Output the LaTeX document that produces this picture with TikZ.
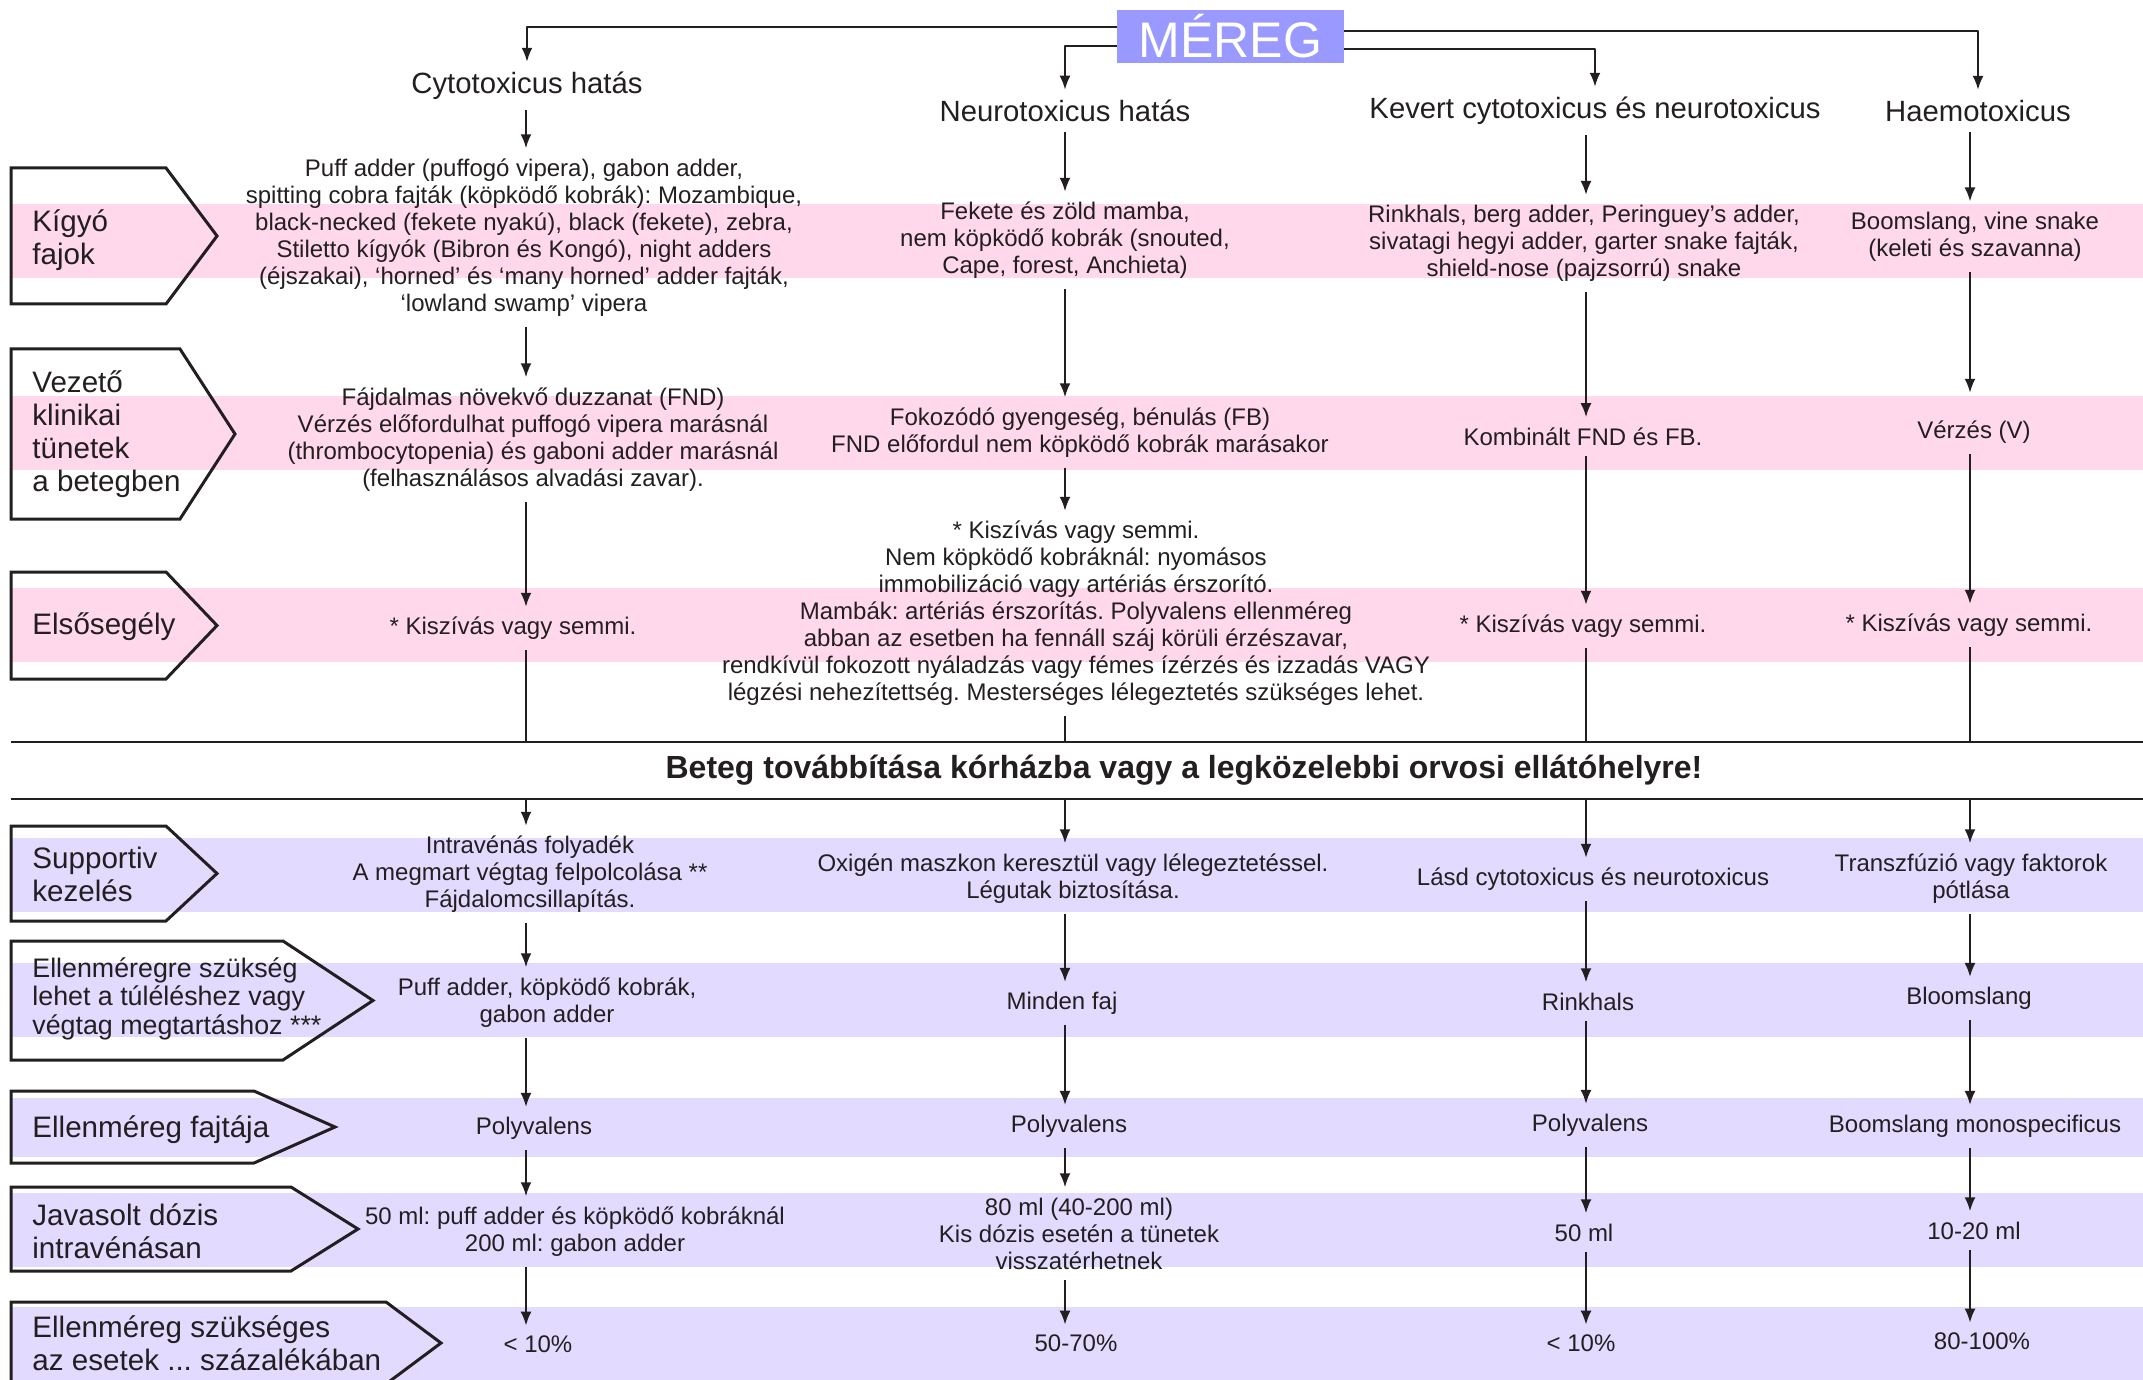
\documentclass[tikz,border=0pt]{standalone}
\usepackage{fontspec}
\setmainfont{Liberation Sans}
\frenchspacing
\usetikzlibrary{arrows.meta}
\definecolor{ink}{RGB}{35,31,32}
\definecolor{rosefill}{RGB}{255,216,236}
\definecolor{lilacfill}{RGB}{227,218,255}
\definecolor{merfill}{RGB}{153,153,255}
\tikzset{
  cell/.style={align=center,inner sep=5pt,yshift=-1.75pt,text=ink,font=\fontsize{12}{13.5}\selectfont},
  head/.style={inner sep=5pt,yshift=-1pt,text=ink,font=\fontsize{14.65}{16}\selectfont},
  rowlabel/.style={anchor=west,align=left,inner sep=0pt,yshift=-0.5pt,text=ink,font=\fontsize{14.8}{16.5}\selectfont},
  rowbox/.style={draw=ink,line width=1.5pt,line join=miter},
  rosebar/.style={fill=rosefill},
  lilacbar/.style={fill=lilacfill},
  rule/.style={draw=ink,line width=1.2pt},
  flow/.style={->,draw=ink,line width=1pt},
  link/.style={draw=ink,line width=1pt},
}
\begin{document}
\begin{tikzpicture}[x=0.5pt,y=-0.5pt,>={Latex[length=7pt,width=5.5pt]},line join=bevel,]
      \useasboundingbox (0,0) rectangle (2143,1380);
      \clip (0,0) rectangle (2143,1380);
      %% 
      % Bands
      \fill [rosebar] (11,204) rectangle (2143,278);
      \fill [rosebar] (11,396) rectangle (2143,470);
      \fill [rosebar] (11,588) rectangle (2143,662);
      \fill [lilacbar] (11,838) rectangle (2143,912);
      \fill [lilacbar] (11,963) rectangle (2143,1037);
      \fill [lilacbar] (11,1098) rectangle (2143,1157);
      \fill [lilacbar] (11,1193) rectangle (2143,1267);
      \fill [lilacbar] (11,1307) rectangle (2143,1380);
      % Columns and rules
      \coordinate (cyx) at (526,0);
      \coordinate (nex) at (1065,0);
      \coordinate (kex) at (1586,0);
      \coordinate (hax) at (1970,0);
      \coordinate (ruleA) at (11,742);
      \coordinate (ruleAend) at (2143,742);
      \coordinate (ruleB) at (11,799);
      \coordinate (ruleBend) at (2143,799);
      \draw [rule] (ruleA) -- (ruleAend);
      \draw [rule] (ruleB) -- (ruleBend);
      % Node: mereg
      \node [fill=merfill,text=white,minimum width=113.5pt,minimum height=26.5pt,inner sep=0pt,
             font=\fontsize{25}{25}\selectfont] (mereg) at (1230.5,36.5) {MÉREG};
      % Node: row labels
      \draw [rowbox] (11,168) -- (166,168) -- (217,236) -- (166,304) -- (11,304) -- cycle;
      \node [rowlabel] (kigyo) at (32,239.5) {Kígyó\\fajok};
      \draw [rowbox] (11,349) -- (180,349) -- (235,434) -- (180,519) -- (11,519) -- cycle;
      \node [rowlabel] (vezeto) at (32,433) {Vezető\\klinikai\\tünetek\\a betegben};
      \draw [rowbox] (11,572) -- (166,572) -- (217,625.5) -- (166,679) -- (11,679) -- cycle;
      \node [rowlabel] (elso) at (32,626) {Elsősegély};
      \draw [rowbox] (11,826) -- (166,826) -- (217,873.5) -- (166,921) -- (11,921) -- cycle;
      \node [rowlabel] (supp) at (32,873.5) {Supportiv\\kezelés};
      \draw [rowbox] (11,941) -- (283,941) -- (373,1000.5) -- (283,1060) -- (11,1060) -- cycle;
      \node [rowlabel,font=\fontsize{13.4}{14.25}\selectfont] (ellen) at (32,997.5) {Ellenméregre szükség\\lehet a túléléshez vagy\\végtag megtartáshoz ***};
      \draw [rowbox] (11,1091) -- (254,1091) -- (335,1127) -- (254,1163) -- (11,1163) -- cycle;
      \node [rowlabel] (fajta) at (32,1129) {Ellenméreg fajtája};
      \draw [rowbox] (11,1187) -- (291,1187) -- (358,1229) -- (291,1271) -- (11,1271) -- cycle;
      \node [rowlabel] (dozis) at (32,1230) {Javasolt dózis\\intravénásan};
      \draw [rowbox] (11,1302) -- (386,1302) -- (441,1343) -- (386,1384) -- (11,1384) -- cycle;
      \node [rowlabel] (szazalek) at (32,1342) {Ellenméreg szükséges\\az esetek ... százalékában};
      % Node: titles
      \node [head] (cyT) at (527,84) {Cytotoxicus hatás};
      \node [head] (neT) at (1065,109) {Neurotoxicus hatás};
      \node [head] (keT) at (1595,109) {Kevert cytotoxicus és neurotoxicus};
      \node [head] (haT) at (1978,109) {Haemotoxicus};
      % Node: species
      \node [cell] (cyS) at (524,234) {Puff adder (puffogó vipera), gabon adder,\\spitting cobra fajták (köpködő kobrák): Mozambique,\\black-necked (fekete nyakú), black (fekete), zebra,\\Stiletto kígyók (Bibron és Kongó), night adders\\(éjszakai), ‘horned’ és ‘many horned’ adder fajták,\\‘lowland swamp’ vipera};
      \node [cell] (neS) at (1065,237) {Fekete és zöld mamba,\\nem köpködő kobrák (snouted,\\Cape, forest, Anchieta)};
      \node [cell] (keS) at (1584,240) {Rinkhals, berg adder, Peringuey’s adder,\\sivatagi hegyi adder, garter snake fajták,\\shield-nose (pajzsorrú) snake};
      \node [cell] (haS) at (1975,233) {Boomslang, vine snake\\(keleti és szavanna)};
      % Node: clinical signs
      \node [cell] (cyC) at (533,436) {Fájdalmas növekvő duzzanat (FND)\\Vérzés előfordulhat puffogó vipera marásnál\\(thrombocytopenia) és gaboni adder marásnál\\(felhasználásos alvadási zavar).};
      \node [cell] (neC) at (1080,429) {Fokozódó gyengeség, bénulás (FB)\\FND előfordul nem köpködő kobrák marásakor};
      \node [cell] (keC) at (1583,433) {Kombinált FND és FB.};
      \node [cell] (haC) at (1974,429) {Vérzés (V)};
      % Node: first aid
      \node [cell] (cyF) at (513,625) {* Kiszívás vagy semmi.};
      \node [cell] (neF) at (1076,610) {* Kiszívás vagy semmi.\\Nem köpködő kobráknál: nyomásos\\immobilizáció vagy artériás érszorító.\\Mambák: artériás érszorítás. Polyvalens ellenméreg\\abban az esetben ha fennáll száj körüli érzészavar,\\rendkívül fokozott nyáladzás vagy fémes ízérzés és izzadás VAGY\\légzési nehezítettség. Mesterséges lélegeztetés szükséges lehet.};
      \node [cell] (keF) at (1583,623) {* Kiszívás vagy semmi.};
      \node [cell] (haF) at (1969,622) {* Kiszívás vagy semmi.};
      % Node: transfer
      \node [text=ink,yshift=-1pt,font=\bfseries\fontsize{16}{18}\selectfont] (transfer) at (1184,768) {Beteg továbbítása kórházba vagy a legközelebbi orvosi ellátóhelyre!};
      % Node: supportive care
      \node [cell] (cyP) at (530,871) {Intravénás folyadék\\A megmart végtag felpolcolása **\\Fájdalomcsillapítás.};
      \node [cell] (neP) at (1073,875) {Oxigén maszkon keresztül vagy lélegeztetéssel.\\Légutak biztosítása.};
      \node [cell] (keP) at (1593,876) {Lásd cytotoxicus és neurotoxicus};
      \node [cell] (haP) at (1971,875) {Transzfúzió vagy faktorok\\pótlása};
      % Node: antivenom needed
      \node [cell] (cyA) at (547,999) {Puff adder, köpködő kobrák,\\gabon adder};
      \node [cell] (neA) at (1062,1000) {Minden faj};
      \node [cell] (keA) at (1588,998) {Rinkhals};
      \node [cell] (haA) at (1969,995) {Bloomslang};
      % Node: antivenom type
      \node [cell] (cyY) at (534,1125) {Polyvalens};
      \node [cell] (neY) at (1069,1123) {Polyvalens};
      \node [cell] (keY) at (1590,1122) {Polyvalens};
      \node [cell] (haY) at (1975,1123) {Boomslang monospecificus};
      % Node: dose
      \node [cell] (cyD) at (575,1228) {50 ml: puff adder és köpködő kobráknál\\200 ml: gabon adder};
      \node [cell] (neD) at (1079,1230) {80 ml (40-200 ml)\\Kis dózis esetén a tünetek\\visszatérhetnek};
      \node [cell] (keD) at (1584,1229) {50 ml};
      \node [cell] (haD) at (1974,1227) {10-20 ml};
      % Node: percentage
      \node [cell] (cyR) at (538,1341) {< 10\%};
      \node [cell] (neR) at (1076,1340) {50-70\%};
      \node [cell] (keR) at (1581,1340) {< 10\%};
      \node [cell] (haR) at (1982,1338) {80-100\%};
      % Edge: mereg -> titles
      \draw [flow] ([yshift=4.75pt]mereg.west) -| (cyT.north);
      \draw [flow] ([yshift=-4.75pt]mereg.west) -| (neT.north);
      \draw [flow] ([yshift=2.75pt]mereg.east) -| (haT.north);
      \draw [flow] ([yshift=-6.25pt]mereg.east) -| (keT.north);
      % Edge: cytotoxic column
      \draw [flow] (cyT.south -| cyx) -- (cyS.north -| cyx);
      \draw [flow] (cyS.south -| cyx) -- (cyC.north -| cyx);
      \draw [flow] (cyC.south -| cyx) -- (cyF.north -| cyx);
      \draw [link] (cyF.south -| cyx) -- (cyx |- ruleA);
      \draw [flow] (cyx |- ruleB) -- (cyP.north -| cyx);
      \draw [flow] (cyP.south -| cyx) -- (cyA.north -| cyx);
      \draw [flow] (cyA.south -| cyx) -- (cyY.north -| cyx);
      \draw [flow] (cyY.south -| cyx) -- (cyD.north -| cyx);
      \draw [flow] (cyD.south -| cyx) -- (cyR.north -| cyx);
      % Edge: neurotoxic column
      \draw [flow] (neT.south -| nex) -- (neS.north -| nex);
      \draw [flow] (neS.south -| nex) -- (neC.north -| nex);
      \draw [flow] (neC.south -| nex) -- (neF.north -| nex);
      \draw [link] (neF.south -| nex) -- (nex |- ruleA);
      \draw [flow] (nex |- ruleB) -- (neP.north -| nex);
      \draw [flow] (neP.south -| nex) -- (neA.north -| nex);
      \draw [flow] (neA.south -| nex) -- (neY.north -| nex);
      \draw [flow] (neY.south -| nex) -- (neD.north -| nex);
      \draw [flow] (neD.south -| nex) -- (neR.north -| nex);
      % Edge: mixed column
      \draw [flow] (keT.south -| kex) -- (keS.north -| kex);
      \draw [flow] (keS.south -| kex) -- (keC.north -| kex);
      \draw [flow] (keC.south -| kex) -- (keF.north -| kex);
      \draw [link] (keF.south -| kex) -- (kex |- ruleA);
      \draw [flow] (kex |- ruleB) -- (keP.north -| kex);
      \draw [flow] (keP.south -| kex) -- (keA.north -| kex);
      \draw [flow] (keA.south -| kex) -- (keY.north -| kex);
      \draw [flow] (keY.south -| kex) -- (keD.north -| kex);
      \draw [flow] (keD.south -| kex) -- (keR.north -| kex);
      % Edge: haemotoxic column
      \draw [flow] (haT.south -| hax) -- (haS.north -| hax);
      \draw [flow,shorten >=9pt] (haS.south -| hax) -- (haC.north -| hax);
      \draw [flow] (haC.south -| hax) -- (haF.north -| hax);
      \draw [link] (haF.south -| hax) -- (hax |- ruleA);
      \draw [flow] (hax |- ruleB) -- (haP.north -| hax);
      \draw [flow] (haP.south -| hax) -- (haA.north -| hax);
      \draw [flow] (haA.south -| hax) -- (haY.north -| hax);
      \draw [flow] (haY.south -| hax) -- (haD.north -| hax);
      \draw [flow] (haD.south -| hax) -- (haR.north -| hax);
      % 
\end{tikzpicture}
\end{document}
